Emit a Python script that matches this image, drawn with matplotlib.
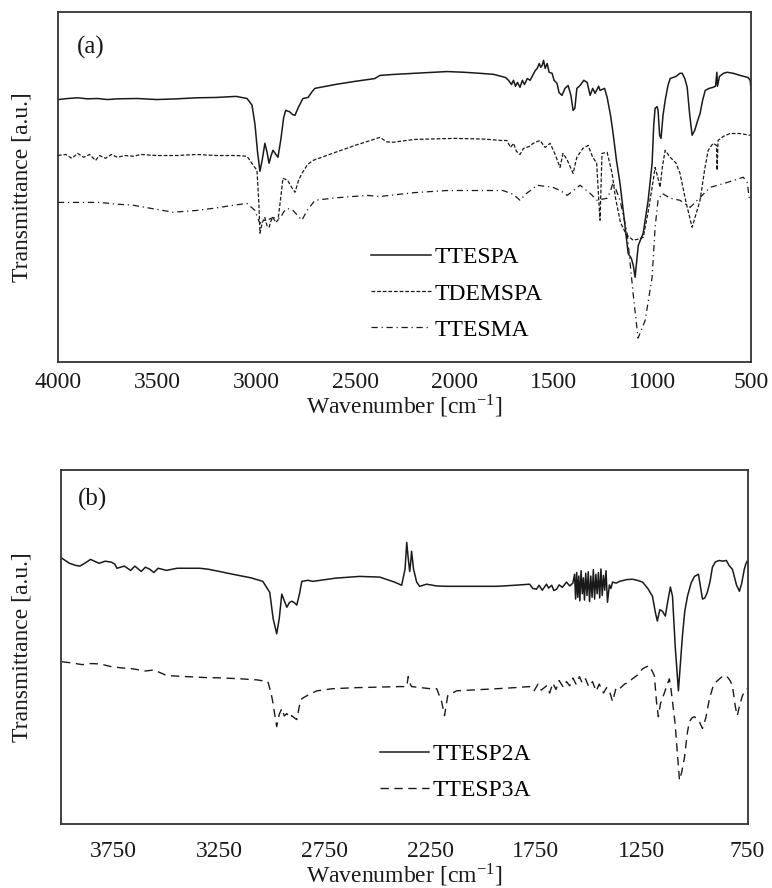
import matplotlib
matplotlib.use("Agg")
import matplotlib.pyplot as plt

plt.rcParams['font.family'] = ['Liberation Serif', 'DejaVu Serif']
plt.rcParams['mathtext.fontset'] = 'stix'

# (a) silane acrylates
ttespa_wn = [4000, 3950, 3900, 3850, 3800, 3750, 3700, 3600, 3500, 3400, 3300, 3200, 3100, 3045,
             3020, 3005, 2992, 2980, 2968, 2955, 2944, 2934, 2924, 2914, 2900, 2889, 2875, 2860,
             2850, 2830, 2815, 2803, 2785, 2763, 2737, 2715, 2702, 2600, 2500, 2400, 2374, 2300,
             2200, 2100, 2035, 1950, 1869, 1800, 1760, 1740, 1725, 1710, 1700, 1690, 1680, 1667,
             1655, 1645, 1630, 1616, 1600, 1590, 1580, 1570, 1562, 1555, 1548, 1540, 1530, 1520,
             1505, 1495, 1480, 1470, 1455, 1440, 1424, 1410, 1399, 1390, 1380, 1364, 1345, 1328,
             1313, 1300, 1288, 1270, 1263, 1240, 1227, 1210, 1197, 1180, 1162, 1140, 1121, 1105,
             1095, 1086, 1070, 1045, 1020, 1000, 992, 985, 975, 970, 962, 955, 945, 934, 920, 909,
             880, 860, 848, 835, 823, 810, 798, 785, 770, 758, 745, 732, 712, 692, 680, 673, 670,
             660, 640, 621, 590, 556, 515, 505, 500]
ttespa_t = [75.1, 75.4, 75.6, 75.3, 75.4, 75.1, 75.3, 75.4, 75.1, 75.3, 75.6, 75.7, 76.0, 75.4,
            73.5, 68.0, 60.0, 54.6, 58.0, 62.6, 60.0, 56.9, 59.0, 60.6, 59.5, 58.6, 63.5, 70.0,
            72.0, 71.6, 70.8, 70.6, 73.0, 75.4, 75.7, 77.5, 78.3, 79.4, 80.3, 81.1, 82.0, 82.3,
            82.6, 82.9, 83.1, 82.9, 82.6, 82.3, 81.7, 81.4, 80.6, 79.4, 80.6, 78.9, 80.0, 78.6,
            80.6, 79.4, 81.1, 80.6, 82.3, 83.4, 84.0, 85.4, 84.3, 84.9, 86.3, 84.0, 85.4, 82.9,
            82.6, 80.6, 79.7, 77.1, 76.3, 78.3, 79.1, 76.3, 72.0, 72.6, 78.3, 79.1, 80.6, 80.0,
            76.3, 78.3, 76.9, 78.9, 77.7, 78.3, 75.7, 70.6, 65.4, 57.7, 51.1, 40.6, 31.1, 29.7,
            27.7, 24.3, 33.4, 36.9, 46.3, 56.9, 67.7, 72.6, 73.1, 72.0, 64.9, 64.0, 70.6, 74.9, 79.1, 81.1,
            81.7, 82.6, 82.6, 81.1, 78.6, 70.6, 64.9, 66.3, 69.1, 71.1, 74.9, 77.7, 78.3, 78.6, 78.9, 82.9, 78.9,
            81.7, 82.6, 82.9, 82.6, 82.0, 81.4, 80.6, 77.7]

tdemspa_wn = [4000, 3960, 3930, 3900, 3870, 3840, 3810, 3790, 3760, 3730, 3700, 3660, 3620, 3580,
              3500, 3400, 3300, 3200, 3100, 3045, 3010, 2995, 2985, 2980, 2968, 2955, 2944, 2934,
              2924, 2914, 2900, 2889, 2875, 2864, 2840, 2820, 2803, 2785, 2768, 2740, 2712, 2600,
              2500, 2400, 2374, 2340, 2308, 2200, 2000, 1850, 1760, 1733, 1715, 1700, 1685, 1667,
              1650, 1620, 1600, 1580, 1566, 1540, 1515, 1490, 1465, 1450, 1430, 1399, 1380, 1350,
              1323, 1300, 1280, 1273, 1263, 1253, 1227, 1202, 1185, 1160, 1130, 1096, 1070, 1045,
              1020, 1000, 985, 972, 960, 948, 934, 909, 880, 859, 830, 798, 775, 758, 735, 717,
              692, 675, 672, 667, 640, 606, 560, 505, 500]
tdemspa_t = [59.1, 59.4, 58.3, 59.7, 58.6, 59.4, 57.7, 59.1, 58.3, 59.4, 58.6, 59.1, 58.9, 59.4,
             59.1, 59.1, 59.4, 59.1, 59.1, 58.9, 56.0, 54.9, 45.0, 36.9, 40.0, 41.4, 39.0, 38.6,
             40.5, 41.4, 40.0, 40.6, 47.0, 52.6, 52.0, 50.0, 48.6, 52.0, 54.0, 56.5, 57.7, 60.0,
             62.0, 63.8, 64.3, 63.0, 62.9, 63.7, 64.0, 63.8, 63.4, 63.4, 61.4, 62.6, 60.3, 59.4,
             61.1, 61.7, 62.6, 63.1, 63.4, 61.4, 62.6, 59.5, 55.7, 59.7, 58.0, 54.0, 58.6, 61.1,
             62.0, 58.6, 57.0, 50.0, 40.6, 59.7, 60.0, 54.0, 47.0, 40.0, 36.5, 34.9, 35.2, 35.7,
             43.0, 50.0, 55.7, 53.0, 50.0, 56.0, 60.6, 58.6, 57.0, 54.0, 46.0, 38.6, 43.0, 46.3, 55.0, 60.6,
             62.6, 62.0, 54.9, 63.4, 64.6, 65.4, 65.4, 64.9, 64.6]

ttesma_wn = [4000, 3900, 3788, 3700, 3621, 3500, 3419, 3300, 3217, 3100, 3045, 3005, 2990, 2980,
             2960, 2944, 2914, 2879, 2860, 2843, 2813, 2790, 2768, 2742, 2702, 2600, 2439, 2374,
             2200, 2035, 1900, 1753, 1700, 1667, 1640, 1581, 1540, 1500, 1460, 1429, 1400, 1364,
             1313, 1278, 1227, 1210, 1197, 1180, 1162, 1126, 1096, 1071, 1035, 1000, 985, 970,
             950, 909, 859, 808, 758, 707, 621, 540, 520, 510, 500]
ttesma_t = [45.7, 45.7, 45.7, 45.2, 44.9, 43.7, 42.9, 43.4, 44.0, 45.0, 45.4, 43.4, 41.0, 39.7,
            40.6, 40.6, 41.4, 41.1, 43.0, 44.0, 43.4, 42.0, 40.6, 43.4, 46.3, 47.0, 47.7, 47.4,
            48.5, 49.1, 49.1, 49.1, 48.0, 46.3, 48.0, 50.6, 50.3, 50.0, 49.0, 47.7, 49.0, 50.6,
            48.3, 46.3, 46.9, 49.0, 51.4, 49.0, 46.3, 36.9, 19.7, 6.9, 12.0, 24.3, 38.6, 46.3,
            48.3, 46.9, 46.3, 44.3, 47.1, 50.0, 51.4, 52.9, 51.4, 47.1, 46.3]

# (b) TTESP2A / TTESP3A
ttesp2a_wn = [3995, 3960, 3930, 3910, 3880, 3860, 3849, 3820, 3790, 3760, 3744, 3735, 3700, 3670,
              3650, 3620, 3600, 3579, 3560, 3540, 3500, 3450, 3400, 3342, 3300, 3250, 3186, 3100,
              3044, 3011, 2995, 2978, 2966, 2954, 2942, 2930, 2918, 2907, 2895, 2883, 2870, 2859,
              2830, 2807, 2700, 2585, 2490, 2420, 2386, 2370, 2362, 2355, 2348, 2343, 2339, 2330,
              2315, 2301, 2285, 2268, 2220, 2173, 2050, 1936, 1850, 1780, 1765, 1747, 1735, 1720,
              1700, 1690, 1675, 1665, 1652, 1640, 1625, 1605, 1590, 1575, 1567, 1562, 1557, 1552,
              1547, 1542, 1536, 1530, 1525, 1520, 1514, 1508, 1502, 1496, 1490, 1484, 1478, 1472,
              1466, 1460, 1454, 1448, 1442, 1436, 1430, 1424, 1418, 1411, 1402, 1395, 1387, 1370,
              1354, 1320, 1293, 1270, 1245, 1220, 1198, 1185, 1175, 1163, 1151, 1137, 1125, 1113,
              1103, 1090, 1075, 1066, 1056, 1045, 1032, 1015, 999, 980, 968, 961, 950, 938, 925,
              914, 900, 881, 865, 848, 835, 819, 800, 786, 775, 763, 755, 749]
ttesp2a_t = [75.0, 73.6, 73.0, 72.8, 73.9, 74.7, 74.4, 73.6, 74.2, 73.9, 73.3, 72.2, 72.8, 71.6,
             72.8, 71.3, 72.5, 71.9, 71.0, 72.2, 71.6, 72.2, 72.2, 72.2, 71.9, 71.3, 70.5, 69.5,
             68.5, 65.4, 58.0, 53.7, 58.0, 64.9, 63.0, 61.2, 62.5, 62.9, 62.5, 61.8, 65.0, 68.5,
             68.8, 68.5, 69.4, 69.9, 69.7, 68.3, 67.4, 72.0, 79.5, 75.0, 71.3, 74.0, 77.0, 72.0,
             68.3, 67.1, 67.4, 67.7, 67.2, 67.1, 67.1, 67.1, 67.4, 67.7, 66.5, 66.3, 67.4, 66.0,
             67.7, 66.6, 67.4, 65.9, 66.3, 67.5, 66.8, 68.3, 67.2, 68.0, 70.5, 63.5, 71.0, 64.0,
             70.0, 63.0, 71.5, 65.0, 69.5, 63.2, 70.8, 64.5, 71.2, 62.8, 70.0, 64.0, 71.8, 63.5,
             70.5, 65.0, 71.0, 63.8, 72.0, 64.5, 70.2, 66.0, 71.5, 62.6, 67.5, 66.5, 68.3, 68.0,
             68.5, 69.0, 69.1, 68.8, 68.3, 66.5, 64.3, 60.0, 57.3, 60.5, 60.1, 58.7, 63.0, 66.9,
             64.3, 50.0, 37.6, 45.0, 53.1, 60.0, 64.3, 68.0, 69.9, 70.5, 66.0, 63.5, 63.8, 65.4, 68.5,
             72.5, 74.0, 74.4, 74.2, 74.4, 73.0, 71.9, 67.5, 65.7, 68.0, 71.9, 73.5, 74.2]

ttesp3a_wn = [3995, 3950, 3900, 3860, 3815, 3760, 3700, 3659, 3600, 3560, 3498, 3400, 3300, 3262,
              3150, 3072, 3020, 3005, 2997, 2985, 2978, 2966, 2954, 2942, 2930, 2918, 2907, 2895,
              2883, 2870, 2859, 2836, 2788, 2713, 2600, 2396, 2362, 2355, 2345, 2339, 2250, 2220,
              2197, 2183, 2168, 2126, 2000, 1936, 1850, 1780, 1760, 1740, 1725, 1700, 1685, 1670,
              1655, 1640, 1620, 1605, 1590, 1575, 1560, 1544, 1530, 1515, 1500, 1482, 1465, 1450,
              1430, 1415, 1402, 1387, 1370, 1354, 1330, 1310, 1293, 1270, 1245, 1230, 1212, 1198,
              1189, 1179, 1170, 1160, 1151, 1130, 1118, 1110, 1103, 1090, 1080, 1070, 1060, 1047,
              1032, 1023, 1010, 999, 985, 976, 961, 945, 928, 910, 895, 870, 848, 830, 819, 805,
              796, 785, 772, 760, 749]
ttesp3a_t = [45.8, 45.5, 45.0, 45.3, 45.2, 44.4, 44.0, 43.8, 43.2, 43.5, 41.9, 41.6, 41.3, 41.3,
             41.0, 40.7, 40.2, 37.0, 34.6, 30.0, 27.5, 31.0, 32.6, 30.5, 31.2, 30.0, 30.6, 30.0,
             29.5, 33.5, 35.4, 36.2, 37.6, 38.2, 38.5, 38.8, 38.8, 41.6, 39.5, 38.8, 38.2, 38.2,
             34.6, 30.6, 36.2, 37.6, 38.0, 38.2, 38.5, 38.8, 37.5, 39.5, 37.8, 39.0, 37.0, 39.8,
             38.0, 40.5, 38.6, 40.2, 39.0, 41.2, 39.5, 41.6, 39.8, 41.0, 38.8, 40.2, 37.5, 39.5,
             37.0, 38.5, 37.6, 34.6, 38.5, 38.2, 39.5, 40.0, 41.0, 42.0, 43.8, 44.3, 44.7, 43.0,
             41.9, 34.6, 30.3, 34.0, 35.4, 39.0, 41.0, 38.0, 34.6, 28.0, 20.0, 12.4, 14.5, 18.5,
             26.0, 28.9, 30.0, 30.3, 29.5, 28.9, 27.0, 30.0, 35.4, 39.0, 40.2, 41.5, 41.9, 40.5, 39.0, 33.0,
             30.6, 33.5, 36.2, 37.6, 38.2]

FS = 17
INK = '#1a1a1a'


def style_axes(ax, xlim, xticks, tag, tag_xy, tick_pad, ylabel_x):
    ax.set_xlim(*xlim)
    ax.set_ylim(0, 100)
    ax.set_xticks(xticks)
    ax.set_xticklabels([str(t) for t in xticks])
    ax.set_yticks([])
    ax.tick_params(axis='x', length=0, pad=tick_pad, labelsize=FS, colors=INK)
    for s in ax.spines.values():
        s.set_linewidth(1.3)
        s.set_color('#333333')
    ax.set_xlabel('Wavenumber [cm$^{\\mathregular{-1}}$]', fontsize=FS, labelpad=0, color=INK)
    ax.set_ylabel('Transmittance [a.u.]', fontsize=FS, color=INK)
    ax.yaxis.set_label_coords(ylabel_x, 0.5)
    ax.text(tag_xy[0], tag_xy[1], tag, transform=ax.transAxes, fontsize=FS + 1, color=INK,
            ha='left', va='center')


fig = plt.figure(figsize=(7.72, 8.88), dpi=100)

ax1 = fig.add_axes([0.075, 0.592, 0.898, 0.394])
ax1.plot(ttespa_wn, ttespa_t, color=INK, lw=1.1, label='TTESPA')
ax1.plot(tdemspa_wn, tdemspa_t, color=INK, lw=0.9, dashes=(3, 1.5), label='TDEMSPA')
ax1.plot(ttesma_wn, ttesma_t, color=INK, lw=0.9, dashes=(5, 3, 1, 3), label='TTESMA')
style_axes(ax1, (4000, 500), [4000, 3500, 3000, 2500, 2000, 1500, 1000, 500], '(a)',
           (0.027, 0.9), 7, -0.036)
ax1.legend(loc='upper left', bbox_to_anchor=(0.452, 0.33), frameon=False, fontsize=FS,
           handlelength=2.55, handletextpad=0.12, labelspacing=0.62, borderpad=0, borderaxespad=0)

ax2 = fig.add_axes([0.079, 0.072, 0.890, 0.399])
ax2.plot(ttesp2a_wn, ttesp2a_t, color=INK, lw=1.1, label='TTESP2A')
ax2.plot(ttesp3a_wn, ttesp3a_t, color=INK, lw=1.0, dashes=(6, 4), label='TTESP3A')
style_axes(ax2, (4000, 745), [3750, 3250, 2750, 2250, 1750, 1250, 750], '(b)',
           (0.025, 0.915), 12, -0.041)
ax2.legend(loc='upper left', bbox_to_anchor=(0.464, 0.227), frameon=False, fontsize=FS,
           handlelength=2.1, handletextpad=0.12, labelspacing=0.62, borderpad=0, borderaxespad=0)

fig.savefig('out.png', dpi=100)
